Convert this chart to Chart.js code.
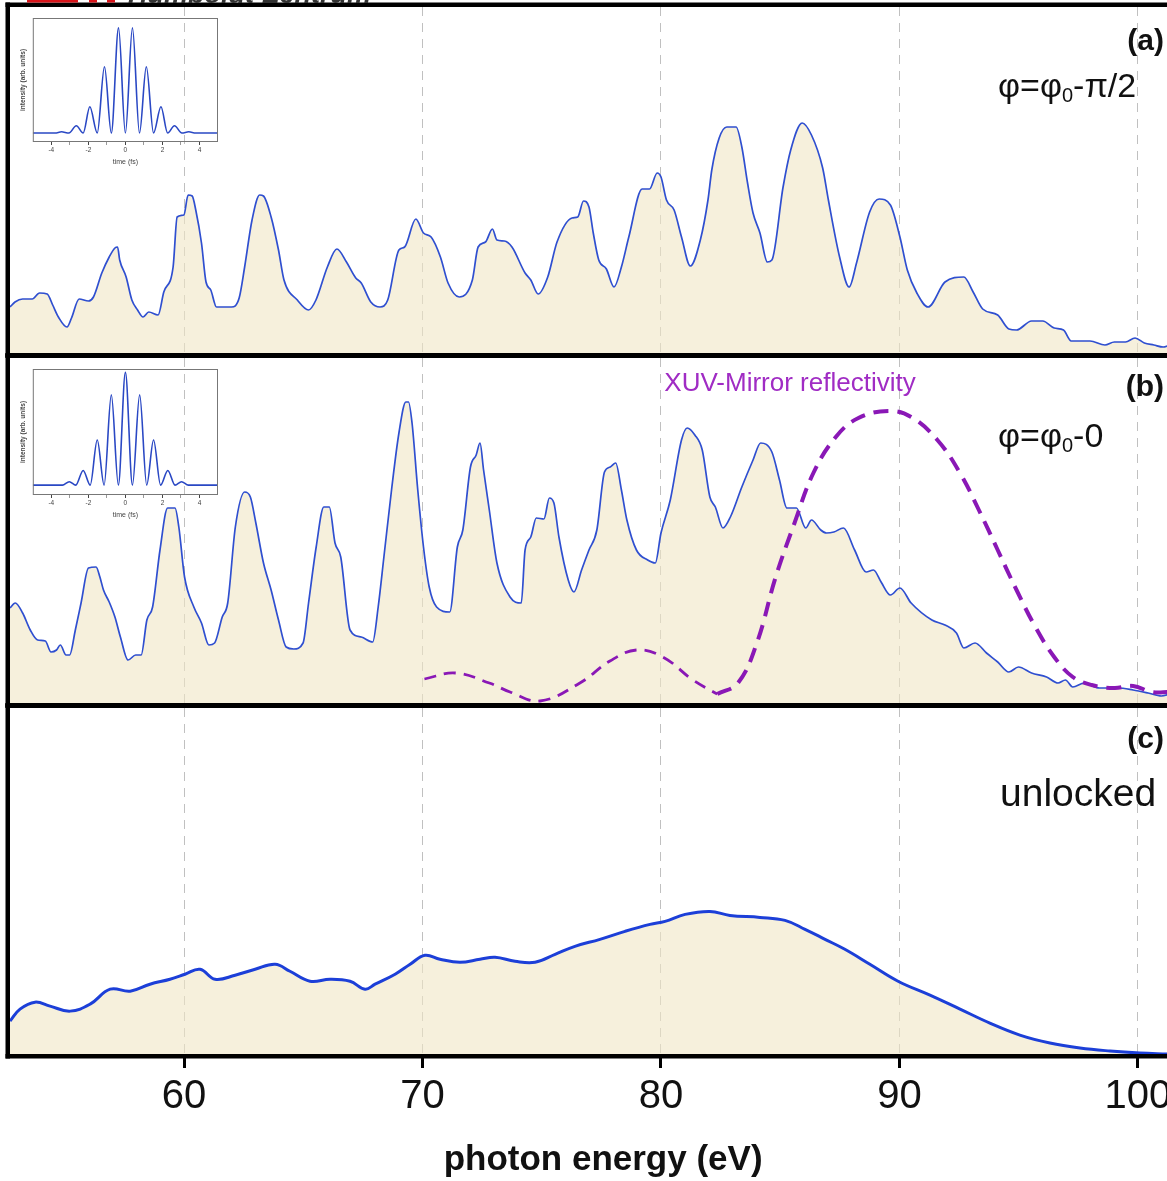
<!DOCTYPE html>
<html>
<head>
<meta charset="utf-8">
<script src="https://cdn.jsdelivr.net/npm/chart.js@4.4.1/dist/chart.umd.min.js"></script>
<style>
  body { margin: 0; background: #fff; }
  #wrap { position: relative; width: 1167px; height: 1181px; overflow: hidden; background: #fff; }
  canvas { position: absolute; left: 0; }
</style>
</head>
<body>
<div id="wrap">
  <canvas id="panelA" width="1167" height="360" style="top:0px"></canvas>
  <canvas id="panelB" width="1167" height="359" style="top:351px"></canvas>
  <canvas id="panelC" width="1230" height="480" style="top:701px"></canvas>
  <canvas id="insetA" width="214" height="158" style="left:10px;top:12px"></canvas>
  <canvas id="insetB" width="214" height="160" style="left:10px;top:363px"></canvas>
</div>
<script>
// photon energy axis (eV)
const xMin = 52.7;
const xMax = 101.22;
const gridEnergies = [60, 70, 80, 90, 100];

// (a) phi = phi0 - pi/2
const energyA = [52.70, 52.91, 53.23, 53.63, 53.94, 54.26, 54.49, 54.73, 55.09, 55.28,
  55.60, 55.99, 56.20, 56.55, 56.86, 57.10, 57.21, 57.30, 57.57, 57.81,
  58.05, 58.28, 58.52, 58.91, 59.15, 59.54, 59.71, 59.99, 60.17, 60.34,
  60.49, 60.73, 60.92, 61.12, 61.36, 61.99, 62.31, 62.54, 62.85, 63.17,
  63.33, 63.65, 63.96, 64.19, 64.75, 65.22, 65.53, 66.01, 66.41, 66.81,
  67.20, 67.43, 67.83, 68.22, 68.54, 69.01, 69.25, 69.72, 70.04, 70.36,
  70.75, 71.07, 71.54, 72.09, 72.33, 72.64, 72.93, 73.12, 73.43, 73.75,
  74.30, 74.54, 74.85, 75.25, 75.64, 76.27, 76.51, 76.75, 76.98, 77.16,
  77.39, 77.71, 78.03, 78.34, 78.65, 79.21, 79.52, 79.84, 80.00, 80.23,
  80.55, 80.86, 81.23, 81.65, 81.97, 82.13, 82.44, 82.76, 83.15, 83.39,
  83.63, 83.86, 84.15, 84.46, 84.65, 85.12, 85.44, 85.92, 86.31, 86.78,
  87.02, 87.49, 87.89, 88.20, 88.75, 89.15, 89.62, 90.02, 90.33, 90.73,
  91.20, 91.91, 92.70, 93.09, 93.49, 94.12, 94.59, 94.91, 95.54, 96.01,
  96.49, 96.88, 97.20, 97.99, 98.62, 99.01, 99.48, 99.88, 100.27, 100.67,
  101.06, 101.34];
const countsA = [46, 51, 54, 54, 60, 59, 48, 36, 26, 35,
  54, 52, 56, 80, 96, 105, 106, 93, 76, 53,
  43, 36, 41, 38, 61, 86, 136, 138, 158, 157,
  143, 110, 71, 63, 46, 46, 55, 86, 133, 158,
  157, 136, 103, 73, 53, 43, 53, 86, 104, 91,
  75, 70, 51, 46, 53, 103, 106, 134, 120, 116,
  96, 70, 56, 73, 106, 111, 124, 113, 112, 106,
  80, 73, 59, 76, 111, 135, 136, 152, 146, 120,
  93, 84, 66, 86, 116, 164, 164, 180, 176, 153,
  143, 116, 87, 113, 153, 183, 215, 226, 226, 206,
  170, 140, 120, 91, 93, 166, 203, 230, 218, 185,
  153, 96, 66, 90, 141, 154, 148, 116, 83, 60,
  46, 71, 76, 61, 44, 38, 24, 23, 32, 32,
  25, 23, 12, 12, 8, 11, 11, 15, 10, 8,
  6, 8];

// (b) phi = phi0 - 0
const energyB = [52.70, 52.92, 53.23, 53.55, 53.86, 54.18, 54.42, 54.65, 54.81, 55.05,
  55.20, 55.44, 55.68, 55.99, 56.31, 56.47, 56.62, 56.86, 57.10, 57.33,
  57.65, 57.97, 58.20, 58.44, 58.68, 58.99, 59.31, 59.62, 59.78, 60.02,
  60.41, 60.73, 61.04, 61.28, 61.60, 61.83, 62.15, 62.54, 62.78, 63.01,
  63.33, 63.65, 63.96, 64.28, 64.60, 64.99, 65.22, 65.54, 65.86, 66.09,
  66.33, 66.57, 66.96, 67.43, 67.91, 68.14, 68.38, 68.70, 69.01, 69.30,
  69.41, 69.56, 69.80, 70.04, 70.28, 70.59, 71.14, 71.46, 71.69, 72.01,
  72.25, 72.41, 72.56, 72.80, 73.12, 73.67, 74.14, 74.30, 74.54, 74.77,
  75.09, 75.32, 75.51, 75.72, 76.11, 76.35, 76.67, 76.98, 77.31, 77.63,
  77.87, 78.10, 78.34, 78.57, 78.97, 79.44, 79.76, 80.00, 80.39, 80.86,
  81.10, 81.42, 81.73, 82.05, 82.28, 82.60, 82.91, 83.39, 83.86, 84.18,
  84.65, 84.97, 85.28, 85.68, 86.07, 86.31, 86.70, 86.94, 87.25, 87.65,
  88.12, 88.60, 88.91, 89.23, 89.62, 90.02, 90.49, 91.36, 91.91, 92.39,
  92.70, 93.17, 93.65, 94.12, 94.59, 94.99, 95.54, 96.17, 96.65, 96.96,
  97.27, 97.75, 98.38, 99.17, 99.80, 100.43, 100.99, 101.34];
const countsB = [95, 100, 90, 73, 63, 62, 51, 53, 58, 48,
  48, 73, 100, 135, 136, 126, 113, 101, 86, 66,
  43, 48, 48, 83, 96, 153, 195, 195, 176, 126,
  96, 80, 58, 60, 86, 100, 176, 211, 206, 180,
  140, 113, 83, 56, 54, 60, 100, 156, 196, 196,
  160, 146, 73, 66, 61, 96, 146, 213, 270, 301,
  301, 280, 213, 156, 116, 96, 91, 156, 173, 236,
  248, 260, 233, 193, 140, 106, 100, 153, 166, 185,
  184, 205, 200, 166, 123, 111, 133, 153, 173, 231,
  236, 240, 213, 183, 153, 143, 140, 170, 203, 263,
  275, 268, 253, 206, 196, 175, 186, 216, 243, 260,
  251, 223, 195, 195, 175, 183, 173, 170, 171, 175,
  153, 131, 133, 121, 108, 115, 100, 83, 78, 70,
  55, 60, 50, 41, 31, 36, 30, 26, 20, 23,
  16, 20, 15, 15, 13, 10, 7, 9];

// XUV mirror reflectivity (dashed), low part and main hump
const mirrorLowE = [70.08, 71.38, 72.80, 73.67, 74.93, 76.60, 77.86, 78.97, 80.08, 81.34, 82.36];
const mirrorLowR = [24, 30, 20, 11, 2, 20, 42, 53, 46, 23, 9];
const mirrorHighE = [82.36, 83.23, 84.02, 84.81, 85.60, 86.39, 87.33, 88.28, 89.54, 90.49,
  91.59, 92.54, 93.33, 94.12, 94.91, 95.70, 96.49, 97.27, 98.06, 99.01, 99.80, 100.59, 101.34];
const mirrorHighR = [9, 20, 60, 126, 180, 230, 266, 285, 292, 286,
  263, 230, 193, 153, 113, 76, 46, 26, 18, 15, 17, 11, 11];

// (c) unlocked
const energyC = [52.70, 53.12, 53.75, 54.38, 55.22, 56.06, 56.90, 57.74, 58.57, 59.41,
  60.04, 60.67, 61.30, 62.14, 62.98, 63.82, 64.44, 65.28, 66.12, 66.96,
  67.59, 68.01, 68.85, 69.48, 70.10, 70.73, 71.57, 72.41, 73.04, 73.88,
  74.72, 75.56, 76.39, 77.44, 78.49, 79.54, 80.17, 81.01, 82.05, 82.89,
  84.15, 85.20, 86.04, 86.88, 87.71, 88.76, 89.94, 91.28, 92.54, 93.79,
  95.05, 96.31, 97.57, 98.83, 100.08, 101.22];
const countsC = [33, 45, 52, 48, 43, 50, 65, 63, 70, 75,
  80, 85, 75, 79, 85, 90, 83, 73, 75, 73,
  65, 70, 80, 90, 99, 95, 92, 95, 97, 93,
  92, 100, 108, 115, 123, 130, 133, 140, 143, 139,
  137, 134, 125, 115, 105, 90, 73, 59, 45, 31,
  19, 11, 6, 3, 1, 0];

// insets: reconstructed pulse intensity vs time
const insetTicks = [-4, -3, -2, -1, 0, 1, 2, 3, 4];
const timeA = [-5, -3.8, -3.45, -3.05, -2.65, -2.28, -1.92, -1.52, -1.13, -0.76, -0.37, 0,
  0.38, 0.76, 1.13, 1.52, 1.92, 2.28, 2.65, 3.05, 3.42, 3.8, 5];
const pulseA = [0, 0, 0.012, 0, 0.07, 0, 0.25, 0, 0.63, 0, 1.0, 0,
  1.0, 0, 0.63, 0, 0.25, 0, 0.07, 0, 0.012, 0, 0];
const timeB = [-5, -3.75, -3.4, -3.03, -2.68, -2.28, -1.9, -1.52, -1.15, -0.76, -0.38, 0,
  0.38, 0.77, 1.15, 1.52, 1.9, 2.29, 2.68, 3.03, 3.4, 3.75, 5];
const pulseB = [0, 0, 0, 0.03, 0, 0.13, 0, 0.40, 0, 0.80, 0, 1.0,
  0, 0.80, 0, 0.40, 0, 0.13, 0, 0.03, 0, 0, 0];

const FONT = '"Liberation Sans", Arial, sans-serif';
const lineBlue = '#2f4fd0';
const fillCream = 'rgba(240, 230, 197, 0.6)';
const gridGrey = 'rgba(185, 185, 185, 0.9)';
const purple = '#8a18b6';

function pts(xs, ys) {
  return xs.map((x, i) => ({ x: x, y: ys[i] }));
}

// thick black frame round each panel, plus panel texts
function framePlugin(extra) {
  return {
    id: 'frame',
    afterDraw(chart) {
      const { ctx, chartArea: a, width } = chart;
      const t = 4.5;
      ctx.save();
      ctx.fillStyle = '#000';
      ctx.fillRect(a.left - t, a.top - t, width, t);
      ctx.fillRect(a.left - t, a.bottom, width, t);
      ctx.fillRect(a.left - t, a.top - t, t, a.bottom - a.top + 2 * t);
      ctx.restore();
      if (extra) {
        ctx.save();
        extra(ctx, chart);
        ctx.restore();
      }
    }
  };
}

function panelLabel(ctx, text, y) {
  ctx.font = 'bold 30px ' + FONT;
  ctx.fillStyle = '#111';
  ctx.textAlign = 'right';
  ctx.textBaseline = 'middle';
  ctx.fillText(text, 1164, y);
}

function phaseLabel(ctx, tail, x, y) {
  ctx.fillStyle = '#111';
  ctx.textAlign = 'left';
  ctx.textBaseline = 'alphabetic';
  ctx.font = '34px ' + FONT;
  ctx.fillText('\u03c6=\u03c6', x, y);
  let w = ctx.measureText('\u03c6=\u03c6').width;
  ctx.font = '20px ' + FONT;
  ctx.fillText('0', x + w, y + 5);
  w += ctx.measureText('0').width;
  ctx.font = '34px ' + FONT;
  ctx.fillText(tail, x + w, y);
}

function spectrumOptions(yMax, pad, withAxis) {
  const x = {
    type: 'linear',
    min: xMin,
    max: xMax,
    afterBuildTicks: (s) => { s.ticks = gridEnergies.map(v => ({ value: v })); },
    grid: { color: gridGrey, lineWidth: 1, drawTicks: false },
    border: { display: false, dash: [9, 7] },
    ticks: { display: false }
  };
  if (withAxis) {
    x.grid = { color: gridGrey, lineWidth: 1, drawTicks: true, tickLength: 14, tickColor: '#000', tickWidth: 3, tickBorderDash: [] };
    x.ticks = { display: true, color: '#111', font: { family: FONT, size: 40 }, padding: 5, maxRotation: 0, autoSkip: false };
    x.title = { display: true, text: '   photon energy (eV)', color: '#111', font: { family: FONT, size: 35, weight: 'bold' }, padding: { top: 13, bottom: 0 } };
  }
  return {
    responsive: false,
    animation: false,
    devicePixelRatio: 1,
    layout: { padding: pad, autoPadding: false },
    plugins: { legend: { display: false }, tooltip: { enabled: false } },
    elements: { point: { radius: 0 } },
    scales: {
      x: x,
      y: { display: false, min: 0, max: yMax }
    }
  };
}

// (a)
new Chart(document.getElementById('panelA'), {
  type: 'line',
  data: {
    datasets: [{
      data: pts(energyA, countsA),
      borderColor: lineBlue,
      borderWidth: 1.7,
      backgroundColor: fillCream,
      fill: 'start',
      cubicInterpolationMode: 'monotone'
    }]
  },
  options: spectrumOptions(346, { left: 10, right: 0, top: 7, bottom: 7 }, false),
  plugins: [framePlugin((ctx) => {
    // cut-off header strip at the very top
    ctx.fillStyle = '#d7141a';
    ctx.fillRect(27, 0, 51, 2.5);
    ctx.fillRect(89, 0, 8, 2.5);
    ctx.fillRect(107, 0, 8, 2.5);
    ctx.fillStyle = '#333';
    ctx.font = 'bold italic 27px ' + FONT;
    ctx.textBaseline = 'alphabetic';
    ctx.fillText('Humboldt-Zentrum', 128, 3);
    panelLabel(ctx, '(a)', 42);
    phaseLabel(ctx, '-\u03c0/2', 998, 97);
  })]
});

// (b)
new Chart(document.getElementById('panelB'), {
  type: 'line',
  data: {
    datasets: [{
      data: pts(energyB, countsB),
      borderColor: lineBlue,
      borderWidth: 1.7,
      backgroundColor: fillCream,
      fill: 'start',
      cubicInterpolationMode: 'monotone',
      order: 2
    }, {
      data: pts(mirrorLowE, mirrorLowR),
      borderColor: purple,
      borderWidth: 2.8,
      borderDash: [12, 8],
      fill: false,
      tension: 0.4,
      order: 1
    }, {
      data: pts(mirrorHighE, mirrorHighR),
      borderColor: purple,
      borderWidth: 4,
      borderDash: [15, 9],
      fill: false,
      tension: 0.4,
      order: 0
    }]
  },
  options: spectrumOptions(345, { left: 10, right: 0, top: 7, bottom: 7 }, false),
  plugins: [framePlugin((ctx) => {
    panelLabel(ctx, '(b)', 37);
    phaseLabel(ctx, '-0', 998, 96);
    ctx.font = '26px ' + FONT;
    ctx.fillStyle = '#a02cc4';
    ctx.textAlign = 'center';
    ctx.textBaseline = 'middle';
    ctx.fillText('XUV-Mirror reflectivity', 790, 33);
  })]
});

// (c) - canvas is wider than the page so the "100" label does not squeeze the plot
new Chart(document.getElementById('panelC'), {
  type: 'line',
  data: {
    datasets: [{
      data: pts(energyC, countsC),
      borderColor: '#1c3fd8',
      borderWidth: 3,
      backgroundColor: fillCream,
      fill: 'start',
      tension: 0.4
    }]
  },
  options: spectrumOptions(347, { left: 10, right: 63, top: 7, bottom: 0 }, true),
  plugins: [framePlugin((ctx) => {
    panelLabel(ctx, '(c)', 39);
    ctx.font = '39px ' + FONT;
    ctx.fillStyle = '#111';
    ctx.textAlign = 'left';
    ctx.textBaseline = 'middle';
    ctx.fillText('unlocked', 1000, 94);
  })]
});

// insets
const boxPlugin = {
  id: 'box',
  afterDraw(chart) {
    const { ctx, chartArea: a } = chart;
    ctx.save();
    ctx.strokeStyle = '#777';
    ctx.lineWidth = 1;
    ctx.strokeRect(a.left + 0.5, a.top + 0.5, a.right - a.left - 1, a.bottom - a.top - 1);
    ctx.restore();
  }
};

function insetChart(id, times, pulse, yMin, yMax) {
  return new Chart(document.getElementById(id), {
    type: 'line',
    data: {
      datasets: [{
        data: pts(times, pulse),
        borderColor: '#2a48c4',
        borderWidth: 1.6,
        fill: false,
        cubicInterpolationMode: 'monotone'
      }]
    },
    options: {
      responsive: false,
      animation: false,
      devicePixelRatio: 1,
      layout: { padding: { left: 9, right: 6, top: 6, bottom: 0 }, autoPadding: false },
      plugins: { legend: { display: false }, tooltip: { enabled: false } },
      elements: { point: { radius: 0 } },
      scales: {
        x: {
          type: 'linear',
          min: -5,
          max: 5,
          afterBuildTicks: (s) => { s.ticks = insetTicks.map(v => ({ value: v })); },
          grid: {
            drawOnChartArea: false,
            drawTicks: true,
            tickLength: 3,
            tickColor: (c) => (c.tick && c.tick.value % 2 !== 0 ? '#999' : '#444')
          },
          border: { display: false },
          ticks: {
            color: '#444',
            font: { family: FONT, size: 6.5 },
            padding: 1,
            autoSkip: false,
            maxRotation: 0,
            callback: (v) => (v % 2 === 0 ? String(v) : '')
          },
          title: { display: true, text: 'time (fs)', color: '#444', font: { family: FONT, size: 7 }, padding: { top: 3, bottom: 3.8 } }
        },
        y: {
          min: yMin,
          max: yMax,
          grid: { display: false, drawTicks: false },
          border: { display: false },
          ticks: { display: false },
          title: { display: true, text: 'intensity (arb. units)', color: '#444', font: { family: FONT, size: 6.5, weight: 'bold' }, padding: { top: 0, bottom: 6 } }
        }
      }
    },
    plugins: [boxPlugin]
  });
}

insetChart('insetA', timeA, pulseA, -0.085, 1.094);
insetChart('insetB', timeB, pulseB, -0.088, 1.03);
</script>
</body>
</html>
